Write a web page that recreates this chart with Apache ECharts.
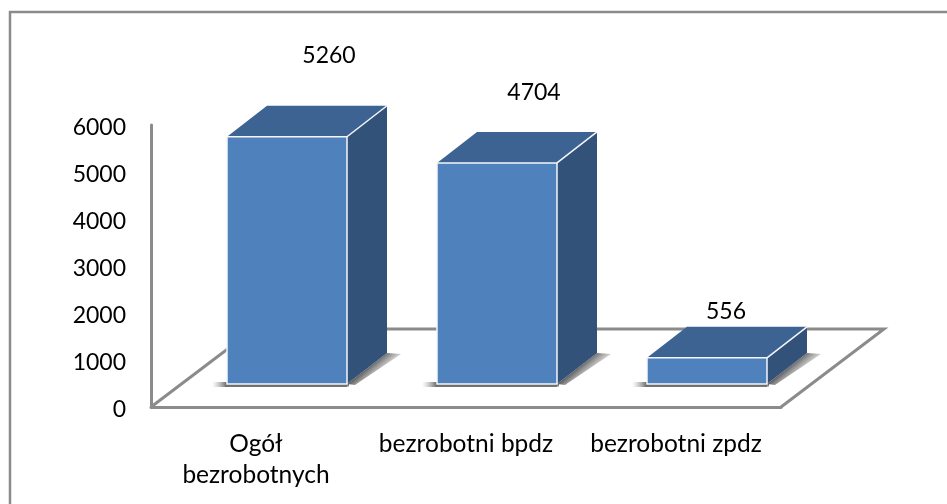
<!DOCTYPE html>
<html>
<head>
<meta charset="utf-8">
<title>Bezrobotni</title>
<style>
  html, body { margin: 0; padding: 0; background: #fff; }
  #chart { width: 947px; height: 504px; }
</style>
</head>
<body>
<div id="chart"></div>
<script src="https://cdn.jsdelivr.net/npm/echarts@6/dist/echarts.min.js"></script>
<script>
var categories = ['Ogół\nbezrobotnych', 'bezrobotni bpdz', 'bezrobotni zpdz'];
var values = [5260, 4704, 556];
var yTicks = [0, 1000, 2000, 3000, 4000, 5000, 6000];

var FONT = 'Lato';
var FONT_SIZE = 23;
var AXIS_COLOR = '#8b8b8b';

// geometry of the fake 3d box
var GRID = { left: 151, top: 125, width: 630, height: 282 };
var FLOOR_DX = 103, FLOOR_DY = -78;
var SHIFT_X = 31, SHIFT_Y = -23;   // bar front relative to the axis plane
var BAR_W = 120;
var DEPTH_X = 40, DEPTH_Y = -31;
// data labels are placed by hand, as in the original
var labelShift = [[42, -81], [37, -70], [19, -46]];

function poly(points, fill, z2) {
  return { type: 'polygon', z2: z2, shape: { points: points }, style: { fill: fill } };
}

function edge(x1, y1, x2, y2) {
  return {
    type: 'line', z2: 5,
    shape: { x1: x1, y1: y1, x2: x2, y2: y2 },
    style: { stroke: '#f4f6fa', lineWidth: 1.5 }
  };
}

function fade(x1, y1, x2, y2) {
  return new echarts.graphic.LinearGradient(x1, y1, x2, y2, [
    { offset: 0, color: 'rgba(100,100,100,1)' },
    { offset: 1, color: 'rgba(170,170,170,0)' }
  ], true);
}

function renderBar(params, api) {
  var top = api.coord([api.value(0), api.value(1)]);
  var base = api.coord([api.value(0), 0]);
  var cx = top[0] + SHIFT_X;
  var l = cx - BAR_W / 2, r = cx + BAR_W / 2;
  var t = top[1] + SHIFT_Y, b = base[1] + SHIFT_Y;
  var s = labelShift[params.dataIndex];
  return {
    type: 'group',
    children: [
      // soft shadow on the floor, left of the front and along the side
      poly([[l - 15, b + 3], [r, b + 3], [r, b - 2], [l - 15, b - 2]], fade(l, b, l - 15, b), 0),
      poly([[l, b + 3], [r + 2, b + 3], [r + 2, b], [l, b]], fade(l, b + 1, l, b + 4), 0),
      poly([[r, b], [r + DEPTH_X, b + DEPTH_Y], [r + DEPTH_X + 14, b + DEPTH_Y + 1], [r + 8, b + 1]], fade(r + DEPTH_X * 0.5, b + DEPTH_Y * 0.5, r + DEPTH_X * 0.5 + 12, b + DEPTH_Y * 0.5 + 14), 0),
      poly([[l, t], [l + DEPTH_X, t + DEPTH_Y], [r + DEPTH_X, t + DEPTH_Y], [r, t]], '#3d6392', 2),
      poly([[r, t], [r + DEPTH_X, t + DEPTH_Y], [r + DEPTH_X, b + DEPTH_Y], [r, b]], '#325279', 2),
      {
        type: 'rect', z2: 3,
        shape: { x: l, y: t, width: BAR_W, height: b - t },
        style: { fill: '#4f81bd', stroke: '#f4f6fa', lineWidth: 1.5 }
      },
      edge(r, t, r + DEPTH_X, t + DEPTH_Y),
      {
        type: 'text', z2: 6,
        style: {
          text: String(api.value(1)),
          x: cx + s[0], y: t + s[1],
          fill: '#000',
          font: FONT_SIZE + 'px ' + FONT,
          align: 'center', verticalAlign: 'middle'
        }
      }
    ]
  };
}

var chart = echarts.init(document.getElementById('chart'), null, { renderer: 'canvas' });
var g = GRID;
var x0 = g.left, x1 = g.left + g.width, y0 = g.top + g.height;

chart.setOption({
  animation: false,
  backgroundColor: '#fff',
  graphic: [
    // outer frame: only top and left are visible
    { type: 'polyline', z: -1, shape: { points: [[10, 504], [10, 12], [947, 12]] }, style: { stroke: AXIS_COLOR, lineWidth: 2.5, fill: null } },
    // floor of the 3d box
    {
      type: 'polyline', z: -1,
      shape: { points: [[x0, y0], [x0 + FLOOR_DX, y0 + FLOOR_DY], [x1 + FLOOR_DX, y0 + FLOOR_DY], [x1, y0]] },
      style: { stroke: AXIS_COLOR, lineWidth: 3, fill: '#fff' }
    }
  ],
  grid: { left: g.left, top: g.top, width: g.width, height: g.height, containLabel: false },
  xAxis: {
    type: 'category',
    data: categories,
    axisTick: { show: false },
    axisLine: { show: true, lineStyle: { color: AXIS_COLOR, width: 3 } },
    axisLabel: { color: '#000', fontFamily: FONT, fontSize: 24.5, lineHeight: 31, margin: 22, interval: 0 }
  },
  yAxis: {
    type: 'value',
    min: yTicks[0],
    max: yTicks[yTicks.length - 1],
    interval: yTicks[1] - yTicks[0],
    splitLine: { show: false },
    axisTick: { show: false },
    axisLine: { show: true, lineStyle: { color: AXIS_COLOR, width: 3 } },
    axisLabel: {
      color: '#000', fontFamily: FONT, fontSize: FONT_SIZE, margin: 25,
      verticalAlign: 'top', lineHeight: 6,   // nudges the labels down a little
      formatter: function (v) { return String(v); }
    }
  },
  series: [
    {
      type: 'custom',
      clip: false,
      renderItem: renderBar,
      encode: { x: 0, y: 1 },
      data: values.map(function (v, i) { return [i, v]; }),
      z: 5
    }
  ]
});
</script>
</body>
</html>
